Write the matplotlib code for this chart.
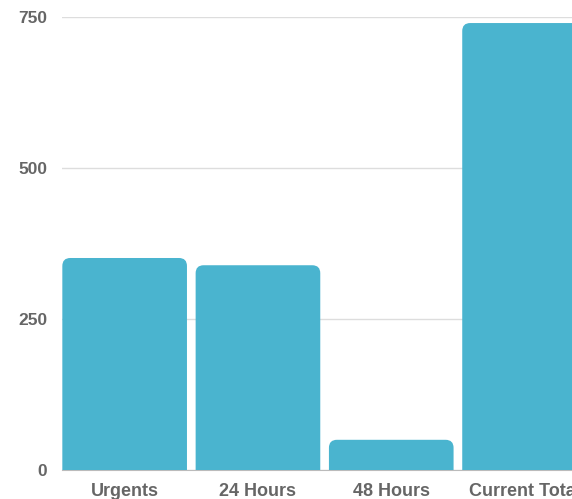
import matplotlib
matplotlib.use("Agg")
import matplotlib.pyplot as plt
from matplotlib.patches import PathPatch
from matplotlib.path import Path

categories = ["Urgents", "24 Hours", "48 Hours", "Current Total"]
counts = [351, 339, 50, 740]
yticks = [0, 250, 500, 750]

BAR = "#4ab4cf"
TXT = "#666666"

plt.rcParams["font.family"] = ["Liberation Sans", "DejaVu Sans"]

fig = plt.figure(figsize=(5.72, 4.99), dpi=100)
W, H = 572, 499
left_px, bottom_px, top_px = 62, 470, 17
ax = fig.add_axes([left_px / W, (H - bottom_px) / H, (W - left_px) / W,
                   (bottom_px - top_px) / H])

x_lo = -0.47
px_per_cat = 133.3
x_hi = x_lo + (W - left_px) / px_per_cat
ax.set_xlim(x_lo, x_hi)
ax.set_ylim(0, 750)

width = 0.935
px_per_y = (bottom_px - top_px) / 750
rx = 8 / px_per_cat
ry = 8 / px_per_y


def top_rounded(x0, w, h):
    verts = [(x0, 0), (x0, h - ry), (x0, h), (x0 + rx, h),
             (x0 + w - rx, h), (x0 + w, h), (x0 + w, h - ry),
             (x0 + w, 0), (x0, 0)]
    codes = [Path.MOVETO, Path.LINETO, Path.CURVE3, Path.CURVE3,
             Path.LINETO, Path.CURVE3, Path.CURVE3, Path.LINETO,
             Path.CLOSEPOLY]
    return Path(verts, codes)


for i, v in enumerate(counts):
    ax.add_patch(PathPatch(top_rounded(i - width / 2, width, v),
                           fc=BAR, ec="none", zorder=2))

ax.set_xticks(range(len(categories)))
ax.set_xticklabels(categories, fontsize=13, fontweight="bold", color=TXT)
ax.set_yticks(yticks)
ax.set_yticklabels([str(t) for t in yticks], fontsize=12.5, fontweight="bold",
                   color=TXT)
ax.tick_params(axis="both", length=0)
ax.tick_params(axis="y", pad=10.5)
ax.tick_params(axis="x", pad=9)
ax.grid(axis="y", color="#dddddd", lw=1)
ax.set_axisbelow(True)
for s in ["top", "right", "left"]:
    ax.spines[s].set_visible(False)
ax.spines["bottom"].set_color("#bbbbbb")
ax.spines["bottom"].set_zorder(1)

fig.savefig("out.png", dpi=100)
